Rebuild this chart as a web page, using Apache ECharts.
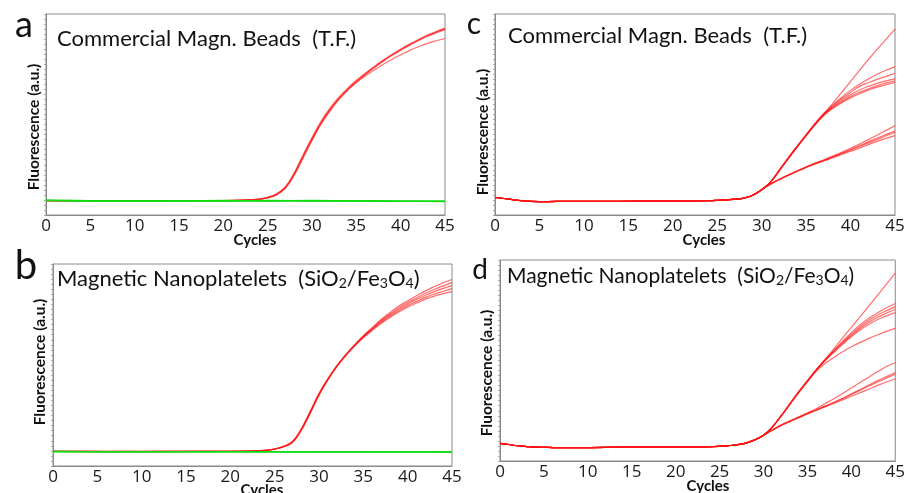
<!DOCTYPE html>
<html>
<head>
<meta charset="utf-8">
<script src="https://cdn.jsdelivr.net/npm/echarts@6/dist/echarts.min.js"></script>
<style>
html,body{margin:0;padding:0;background:#fff;}
#chart{width:908px;height:493px;}
</style>
</head>
<body>
<div id="chart"></div>
<script>
// ---------- data ----------
const xTicks = [0, 5, 10, 15, 20, 25, 30, 35, 40, 45];
const CYC_R = [0,4,8,12,16,20,22,24,25,26,27,28,29,30,31,32,33,34,35,36,37,38,39,40,41,42,43,44,45];
const CYC_G = [0,5,10,15,20,25,30,35,40,45];
const CYC_BASE = [0,1,2,3,4,6,8,12,16,20,24,26,27,28,29,30];
const CYC_TAIL = [31,32,33,34,35,36,37,38,39,40,41,42,43,44,45];

// panel a
const aRed1 = [7.2,7.0,7.0,7.0,7.1,7.2,7.4,7.9,8.8,10.5,14,21,30,38.5,46.5,53,58.5,63,67,70.5,73.8,77,79.8,82.5,85,87.3,89.5,91.3,93];
const aRed2 = [7.1,7.0,6.9,7.0,7.1,7.2,7.3,7.8,8.6,10.2,13.6,20.3,29,37.6,45.6,52.2,57.8,62.5,66.5,70.1,73.5,76.7,79.6,82.3,84.8,87.1,89.2,91,92.6];
const aRed3 = [7.2,7.1,7.0,7.0,7.0,7.2,7.4,7.8,8.5,10,13.2,19.8,28.4,37,45,51.6,57.3,62,66.1,69.8,73.2,76.4,79.3,81.9,84.4,86.7,88.8,90.6,92.2];
const aRed4 = [7.1,7.0,7.0,7.1,7.1,7.2,7.3,7.9,8.7,10.4,13.8,20.6,29.4,37.8,45.7,52.2,57.6,62.1,65.9,69.2,72.1,74.9,77.4,79.7,81.8,83.7,85.4,86.7,87.8];
const aGreen1 = [7.4,7.1,7.0,7.0,7.2,7.1,7.2,7.1,6.9,6.8];
const aGreen2 = [7.2,7.0,6.9,7.1,7.0,7.2,7.0,6.9,6.8,6.7];
const aGreen3 = [7.3,6.9,7.0,6.9,7.1,7.0,7.1,7.0,6.9,6.9];

// panel b
const bRed1 = [7.3,7.2,7.2,7.2,7.2,7.3,7.4,7.8,8.4,9.6,11.8,18,26.5,35.5,43,49.5,55,60,64.5,68.5,72.5,76,79.2,81.8,84.3,86.7,88.8,90.7,92.3];
const bRed2 = [7.2,7.2,7.1,7.2,7.2,7.3,7.4,7.7,8.3,9.5,11.6,17.6,26,35,42.6,49.2,54.7,59.6,64.3,68.2,72,75.3,78.3,80.9,83.2,85.5,87.4,89.2,90.8];
const bRed3 = [7.3,7.1,7.2,7.2,7.3,7.3,7.4,7.8,8.4,9.7,12,18.4,27,36,43.3,49.6,55,59.8,64,67.8,71.5,74.7,77.6,80.2,82.4,84.5,86.3,87.9,89.3];
const bRed4 = [7.2,7.2,7.2,7.1,7.2,7.3,7.3,7.7,8.3,9.5,11.7,17.8,26.3,35.2,42.8,49.2,54.6,59.4,63.8,67.5,71,74.1,76.9,79.4,81.5,83.5,85.1,86.5,87.8];
const bRed5 = [7.3,7.2,7.1,7.2,7.2,7.2,7.4,7.8,8.5,9.8,12.1,18.2,26.8,35.6,43,49.3,54.7,59.3,63.5,67.1,70.5,73.5,76.2,78.6,80.7,82.6,84.1,85.3,86.3];
const bGreen1 = [7.2,7.1,7.1,7.0,7.1,7.1,7.0,7.1,7.0,7.0];
const bGreen2 = [7.1,7.0,7.1,7.1,7.0,7.0,7.1,7.0,7.0,6.9];
const bGreen3 = [7.2,7.1,7.0,7.1,7.1,7.0,7.1,7.1,7.0,7.0];

// panel c
const cBase = [8.7,8.2,7.6,7.1,6.8,6.7,6.8,6.8,6.9,6.9,7.1,7.5,7.9,8.4,9.8,12.6];
const cUp1 = [16.5,22.5,28.5,34.3,40,45.5,50.5,55.5,61,66.5,72,77.3,82.5,87.5,92.5];
const cUp2 = [16.5,22.4,28.4,34.2,39.9,45.4,50.5,54.8,58.5,62,65,67.6,70,72,73.8];
const cUp3 = [16.4,22.3,28.3,34.1,39.8,45.3,50.3,54.3,57.8,61,64,65.8,67.5,69,70.5];
const cUp4 = [16.4,22.3,28.2,34,39.7,45.1,50,53.8,57,59.8,62.2,64,65.5,66.7,67.7];
const cUp5 = [16.3,22.2,28.1,33.9,39.5,44.9,49.8,53.4,56.3,58.9,61,62.8,64.4,65.7,66.8];
const cUp6 = [16.3,22.1,28,33.8,39.4,44.8,49.5,53,55.8,58.2,60.3,62.1,63.6,64.9,66];
const cLow1 = [15.5,17.9,20,22,24,25.8,27.5,29.3,31.2,33.2,35.3,37.5,39.8,42.1,44.4];
const cLow2 = [15.4,17.8,19.9,21.9,23.8,25.6,27.2,29,30.8,32.6,34.5,36.4,38.3,40.1,41.9];
const cLow3 = [15.4,17.7,19.8,21.8,23.7,25.5,27.1,28.8,30.5,32.3,34.1,35.9,37.6,39.4,41.1];
const cLow4 = [15.3,17.6,19.7,21.7,23.6,25.3,26.9,28.5,30.1,31.7,33.3,35,36.6,38.1,39.5];

// panel d
const dBase = [8.8,8.2,7.6,7.2,6.9,6.7,6.6,6.8,6.9,6.9,7.1,7.6,8.1,8.9,10.5,12.8];
const dUp1 = [17,22.5,28.5,34.5,40,45.5,50.5,55.8,61.2,66.5,71.8,77.2,82.5,88,93.5];
const dUp2 = [17,22.5,28.4,34.4,39.9,45.4,50.3,55,59.5,63.8,67.8,71,73.8,76.2,78.4];
const dUp3 = [16.9,22.4,28.3,34.3,39.8,45.3,50.2,54.7,59,63,66.8,70,72.6,74.8,76.8];
const dUp4 = [16.9,22.4,28.3,34.2,39.7,45.2,50,54.4,58.5,62.4,66,69,71.5,73.6,75.5];
const dUp5 = [16.8,22.3,28.2,34.1,39.6,45.1,49.8,54,58,61.8,65.2,68,70.4,72.2,73.8];
const dUp6 = [16.8,22.3,28.2,34,39.4,44.6,48.5,51.5,54.3,56.8,59,61,62.8,64.5,66];
const dLow1 = [15.5,18,20,22,24,26,28.5,31,33.6,36.3,39,41.8,44.5,47,49];
const dLow2 = [15.4,17.8,19.8,21.7,23.6,25.5,27.3,29.2,31.2,33.4,35.6,37.8,40,42,44];
const dLow3 = [15.4,17.7,19.7,21.6,23.5,25.4,27.2,29,31,33.1,35.2,37.3,39.3,41.3,43.2];
const dLow4 = [15.3,17.6,19.6,21.5,23.4,25.2,26.9,28.6,30.4,32.2,34,35.8,37.6,39.3,40.8];

const titles = ['Commercial Magn. Beads  (T.F.)', 'Magnetic Nanoplatelets  (SiO{s|2}/Fe{s|3}O{s|4})'];
const panelLetters = ['a', 'b', 'c', 'd'];

// ---------- chart ----------
const RED = 'rgba(255,20,20,0.62)';
const GREEN = '#10dc10';
const FONT = 'Lato';

const grids = [
  {left: 46, top: 14, width: 399, height: 201},   // a
  {left: 53, top: 264, width: 399, height: 202},  // b
  {left: 495, top: 14, width: 400, height: 201},  // c
  {left: 500, top: 260, width: 398, height: 201}  // d
];

function pairs(xs, ys) { return xs.map((x, i) => [x, ys[i]]); }
const CYC_CD = CYC_BASE.concat(CYC_TAIL);

const series = [];
function addLine(gi, xs, ys, color, width) {
  series.push({
    type: 'line', xAxisIndex: gi, yAxisIndex: gi,
    data: pairs(xs, ys), showSymbol: false, symbol: 'none',
    smooth: 0.4,
    lineStyle: {color: color, width: width},
    silent: true, animation: false
  });
}
[aRed1, aRed2, aRed3, aRed4].forEach(s => addLine(0, CYC_R, s, RED, 1.2));
[aGreen1, aGreen2, aGreen3].forEach(s => addLine(0, CYC_G, s, GREEN, 1.4));
[bRed1, bRed2, bRed3, bRed4, bRed5].forEach(s => addLine(1, CYC_R, s, RED, 1.2));
[bGreen1, bGreen2, bGreen3].forEach(s => addLine(1, CYC_G, s, GREEN, 1.4));
[cUp1, cUp2, cUp3, cUp4, cUp5, cUp6, cLow1, cLow2, cLow3, cLow4].forEach(s => addLine(2, CYC_CD, cBase.concat(s), RED, 1.2));
[dUp1, dUp2, dUp3, dUp4, dUp5, dUp6, dLow1, dLow2, dLow3, dLow4].forEach(s => addLine(3, CYC_CD, dBase.concat(s), RED, 1.2));

const xAxes = grids.map((g, i) => ({
  type: 'value', gridIndex: i, min: xTicks[0], max: xTicks[xTicks.length - 1], interval: 5,
  axisLine: {show: true, lineStyle: {color: '#8a8a8a', width: 1}},
  axisTick: {show: false},
  splitLine: {show: false},
  axisLabel: {color: '#1a1a1a', fontSize: 17, fontFamily: 'Open Sans', margin: 3,
    formatter: v => xTicks.indexOf(v) >= 0 ? String(v) : ''}
}));
const yAxes = grids.map((g, i) => ({
  type: 'value', gridIndex: i, min: 0, max: 100, interval: 2.5,
  axisLine: {show: true, lineStyle: {color: '#8a8a8a', width: 1}},
  axisTick: {show: true, length: 2, lineStyle: {color: '#aaaaaa'}},
  splitLine: {show: false},
  axisLabel: {show: false}
}));

const subRich = {s: {fontSize: 14, fontFamily: FONT, fill: '#111', padding: [9, 0, 0, 0]}};
function txt(x, y, text, font, opts) {
  return Object.assign({type: 'text', x: x, y: y, silent: true,
    style: Object.assign({text: text, font: font, fill: '#111', align: 'left', verticalAlign: 'middle'}, (opts && opts.style) || {})},
    (opts && opts.el) || {});
}

const graphic = [
  // panel letters
  txt(24, 25, panelLetters[0], '36px ' + FONT, {style: {align: 'center'}}),
  txt(26, 266, panelLetters[1], '40px ' + FONT, {style: {align: 'center'}}),
  txt(474, 24, panelLetters[2], '30px ' + FONT, {style: {align: 'center'}}),
  txt(480, 270, panelLetters[3], '28px ' + FONT, {style: {align: 'center'}}),
  // titles
  txt(57, 39, titles[0], '22px ' + FONT),
  txt(508, 36, titles[0], '22px ' + FONT),
  txt(57, 279, titles[1], '22px ' + FONT, {style: {rich: subRich}}),
  txt(507, 276, titles[1], '21px ' + FONT, {style: {rich: subRich}}),
  // x axis names
  txt(255, 240, 'Cycles', 'bold 15px ' + FONT, {style: {align: 'center'}}),
  txt(704, 240, 'Cycles', 'bold 15px ' + FONT, {style: {align: 'center'}}),
  txt(262, 490, 'Cycles', 'bold 15px ' + FONT, {style: {align: 'center'}}),
  txt(708, 486, 'Cycles', 'bold 15px ' + FONT, {style: {align: 'center'}}),
  // y axis names
  txt(34, 127, 'Fluorescence (a.u.)', 'bold 15.5px ' + FONT, {style: {align: 'center'}, el: {rotation: Math.PI / 2}}),
  txt(40, 362, 'Fluorescence (a.u.)', 'bold 15.5px ' + FONT, {style: {align: 'center'}, el: {rotation: Math.PI / 2}}),
  txt(483, 132, 'Fluorescence (a.u.)', 'bold 15.5px ' + FONT, {style: {align: 'center'}, el: {rotation: Math.PI / 2}}),
  txt(487, 373, 'Fluorescence (a.u.)', 'bold 15.5px ' + FONT, {style: {align: 'center'}, el: {rotation: Math.PI / 2}})
];

const chart = echarts.init(document.getElementById('chart'), null, {renderer: 'canvas'});
chart.setOption({
  animation: false,
  backgroundColor: '#ffffff',
  grid: grids.map(g => Object.assign({show: true, borderColor: '#8a8a8a', borderWidth: 1, backgroundColor: 'transparent', containLabel: false}, g)),
  xAxis: xAxes,
  yAxis: yAxes,
  series: series,
  graphic: graphic
});
</script>
</body>
</html>
